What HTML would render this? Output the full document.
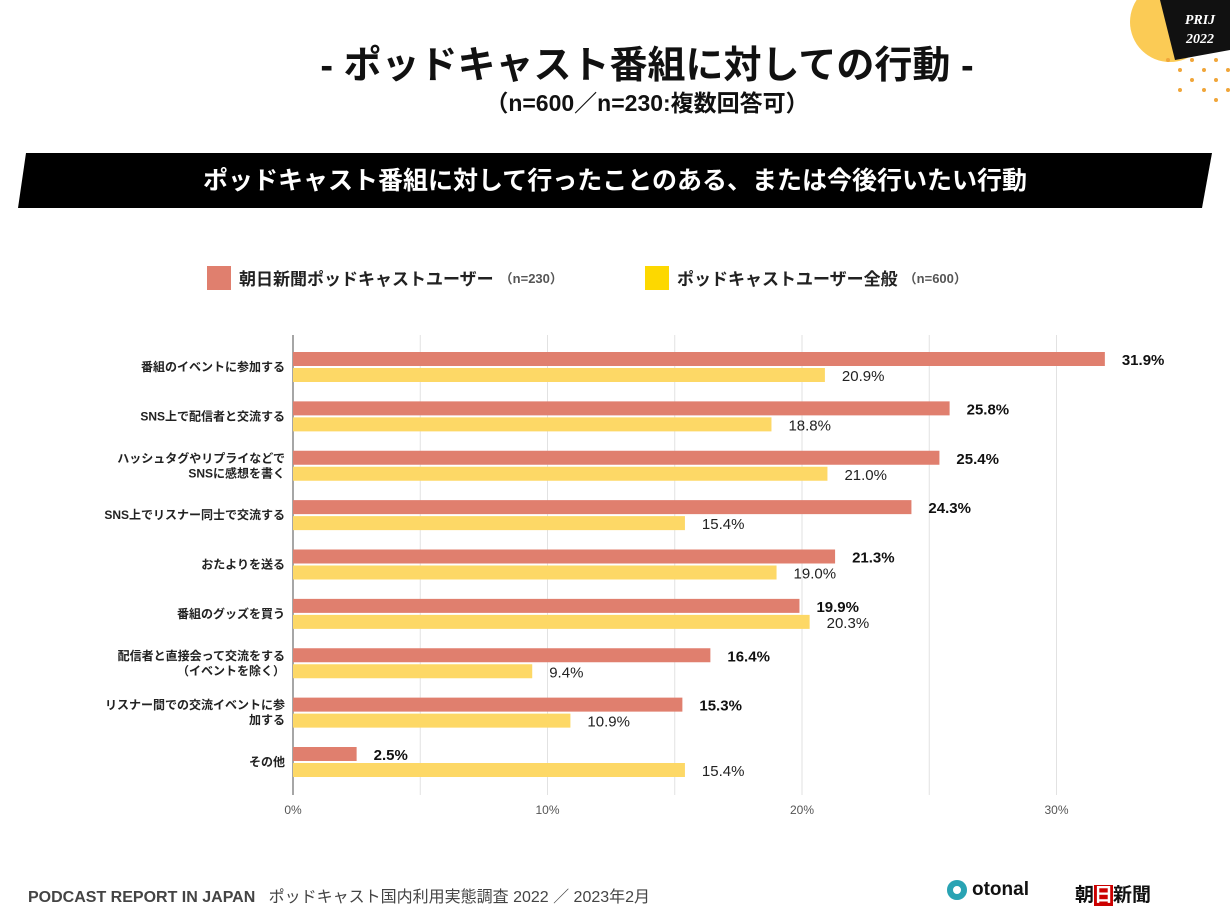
<!DOCTYPE html>
<html><head><meta charset="utf-8"><style>
body{margin:0;width:1230px;height:923px;background:#fff;overflow:hidden;position:relative;font-family:"Liberation Sans","Noto Sans CJK JP",sans-serif}
.abs{position:absolute}
</style></head><body>
<div class="abs" style="left:0;width:1294px;top:34px;text-align:center;font-size:38px;font-weight:bold;color:#111">- ポッドキャスト番組に対しての行動 -</div>
<div class="abs" style="left:0;width:1294px;top:84px;text-align:center;font-size:23px;font-weight:bold;color:#111">（n=600／n=230:複数回答可）</div>
<svg class="abs" style="left:1120px;top:0" width="110" height="110">
<circle cx="50" cy="22" r="40" fill="#fbcb55"/>
<g fill="#f0a63a"><circle cx="48" cy="60" r="2"/><circle cx="60" cy="70" r="2"/><circle cx="72" cy="60" r="2"/><circle cx="72" cy="80" r="2"/><circle cx="84" cy="70" r="2"/><circle cx="96" cy="60" r="2"/><circle cx="96" cy="80" r="2"/><circle cx="84" cy="90" r="2"/><circle cx="108" cy="70" r="2"/><circle cx="108" cy="90" r="2"/><circle cx="96" cy="100" r="2"/><circle cx="60" cy="90" r="2"/></g>
<polygon points="40,0 110,0 110,50 55,60" fill="#111"/>
<text x="80" y="24" font-size="14" font-weight="bold" font-style="italic" fill="#fff" text-anchor="middle" font-family="Liberation Serif">PRIJ</text>
<text x="80" y="43" font-size="14" font-weight="bold" font-style="italic" fill="#fff" text-anchor="middle" font-family="Liberation Serif">2022</text>
</svg>
<svg class="abs" style="left:0;top:150px" width="1230" height="62">
<polygon points="26,3 1212,3 1202,58 18,58" fill="#000"/>
<text x="615" y="39" font-size="25" font-weight="bold" fill="#fff" text-anchor="middle">ポッドキャスト番組に対して行ったことのある、または今後行いたい行動</text>
</svg>
<div class="abs" style="left:207px;top:265px;font-size:17px;font-weight:bold;color:#222;display:flex;align-items:center;white-space:nowrap"><span style="display:inline-block;width:24px;height:24px;background:#e07f6e;margin-right:8px"></span>朝日新聞ポッドキャストユーザー<span style="font-size:13px;color:#555;margin-left:6px">（n=230）</span></div>
<div class="abs" style="left:645px;top:265px;font-size:17px;font-weight:bold;color:#222;display:flex;align-items:center;white-space:nowrap"><span style="display:inline-block;width:24px;height:24px;background:#fdd800;margin-right:8px"></span>ポッドキャストユーザー全般<span style="font-size:13px;color:#555;margin-left:6px">（n=600）</span></div>
<svg class="abs" id="chart" style="left:0;top:0" width="1230" height="860"></svg>
<div class="abs" style="left:28px;top:883px;font-size:16px;color:#444;white-space:nowrap"><b>PODCAST REPORT IN JAPAN</b>&nbsp;&nbsp;&nbsp;ポッドキャスト国内利用実態調査 2022 ／ 2023年2月</div>
<div class="abs" style="left:947px;top:879px;font-size:19px;font-weight:bold;color:#111;display:flex;align-items:center"><span style="display:inline-block;width:20px;height:20px;border-radius:50%;background:#29a3b3;margin-right:5px;box-shadow:inset 0 0 0 6px #29a3b3,inset 0 0 0 10px #fff"></span>otonal</div>
<div class="abs" style="left:1075px;top:880px;font-size:19px;font-weight:bold;color:#111">朝<span style="background:#c00;color:#fff">日</span>新聞</div>
<script>
const categories=["番組のイベントに参加する","SNS上で配信者と交流する","ハッシュタグやリプライなどで|SNSに感想を書く","SNS上でリスナー同士で交流する","おたよりを送る","番組のグッズを買う","配信者と直接会って交流をする|（イベントを除く）","リスナー間での交流イベントに参|加する","その他"];
const asahiValues=[31.9,25.8,25.4,24.3,21.3,19.9,16.4,15.3,2.5];
const allValues=[20.9,18.8,21.0,15.4,19.0,20.3,9.4,10.9,15.4];
const tickValues=[0,10,20,30];
const gridValues=[5,10,15,20,25,30];
const svg=document.getElementById('chart');
const NS='http://www.w3.org/2000/svg';
const x0=293,pxPer=25.45,plotTop=335,plotBottom=795;
const xs=v=>x0+v*pxPer;
const firstRow=367,lastRow=762;
const rowH=(lastRow-firstRow)/(categories.length-1);
const yc=i=>firstRow+rowH*i;
function mk(t,a){const e=document.createElementNS(NS,t);for(const k in a)e.setAttribute(k,a[k]);svg.appendChild(e);return e;}
gridValues.forEach(v=>{const l=mk('line',{x1:xs(v),x2:xs(v),y1:plotTop,y2:plotBottom,stroke:'#e2e2e2'});

});
const ax=mk('line',{x1:x0,x2:x0,y1:plotTop,y2:plotBottom,stroke:'#888','stroke-width':1.5});


tickValues.forEach(v=>{const t=mk('text',{x:xs(v),y:814,'font-size':12,fill:'#555','text-anchor':'middle'});t.textContent=v+'%';

});
categories.forEach((c,i)=>{const y=yc(i);
const parts=c.split('|');
parts.forEach((p,j)=>{const t=mk('text',{x:285,y:y+4+(j-(parts.length-1)/2)*15,'font-size':12,'font-weight':'bold',fill:'#222','text-anchor':'end'});t.textContent=p;

});
const r=mk('rect',{x:x0,y:y-15,width:xs(asahiValues[i])-x0,height:14,fill:'#e07f6e'});


const b=mk('rect',{x:x0,y:y+1,width:xs(allValues[i])-x0,height:14,fill:'#fdd866'});


const t1=mk('text',{x:xs(asahiValues[i])+17,y:y-2,'font-size':15,'font-weight':'bold',fill:'#111'});t1.textContent=asahiValues[i].toFixed(1)+'%';


const t2=mk('text',{x:xs(allValues[i])+17,y:y+14,'font-size':15,fill:'#222'});t2.textContent=allValues[i].toFixed(1)+'%';


});
</script>
</body></html>
